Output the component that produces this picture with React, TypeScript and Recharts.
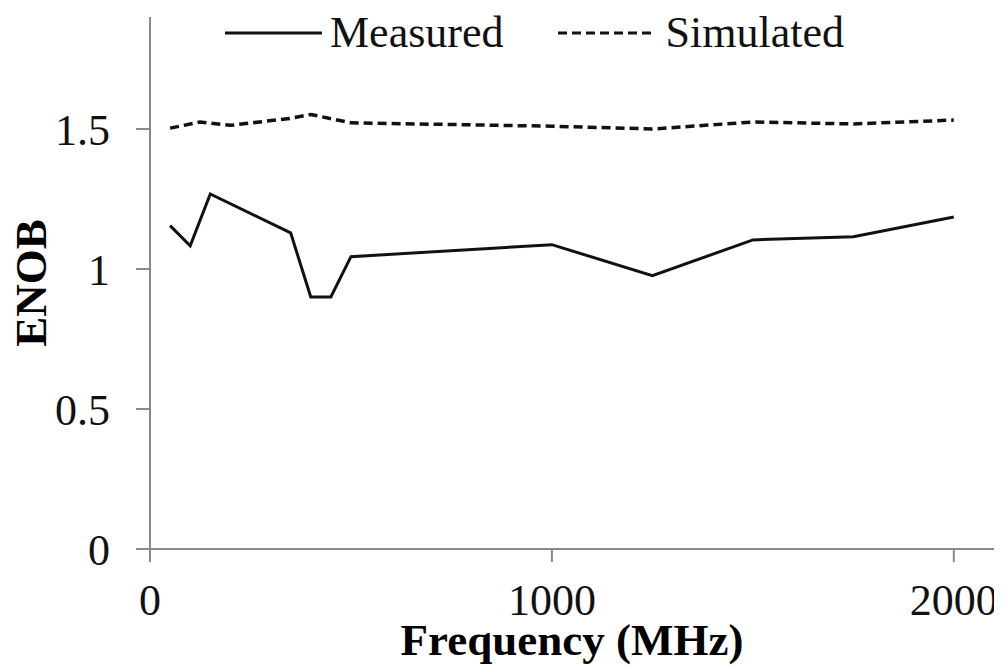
import { Line, LineChart, XAxis, YAxis, Label } from "recharts";

// ENOB vs fréquence : mesure contre simulation.

const measuredFreq = [50, 100, 150, 350, 400, 450, 500, 1000, 1250, 1500, 1750, 2000];
const measuredEnob = [1.155, 1.083, 1.268, 1.129, 0.9, 0.9, 1.044, 1.087, 0.976, 1.104, 1.115, 1.186];

const simulatedFreq = [50, 125, 200, 350, 400, 500, 1000, 1250, 1500, 1750, 2000];
const simulatedEnob = [1.503, 1.525, 1.513, 1.538, 1.552, 1.522, 1.51, 1.5, 1.525, 1.518, 1.532];

const xTicks = [0, 1000, 2000];
const yTicks = [0, 0.5, 1, 1.5];

const FONT = '"Liberation Serif", "Times New Roman", serif';
const AXIS_GREY = "#8a8a8a";

const measured = measuredFreq.map((f, i) => ({ freq: f, enob: measuredEnob[i] }));
const simulated = simulatedFreq.map((f, i) => ({ freq: f, enob: simulatedEnob[i] }));

// légende posée par-dessus le graphe, pour ne pas décaler la zone de tracé
function LegendBox() {
  const text = { fontFamily: FONT, fontSize: 44, color: "#111", lineHeight: "50px" };
  return (
    <div
      style={{
        position: "absolute",
        top: 0,
        left: 217,
        display: "flex",
        alignItems: "center",
        whiteSpace: "nowrap"
      }}
    >
      <svg width={97} height={10}>
        <line x1={0} y1={5} x2={97} y2={5} stroke="#111" strokeWidth={3} />
      </svg>
      <span style={{ ...text, marginLeft: 8 }}>Measured</span>
      <svg width={96} height={10} style={{ marginLeft: 54 }}>
        <line x1={0} y1={5} x2={96} y2={5} stroke="#111" strokeWidth={3} strokeDasharray="9 5" />
      </svg>
      <span style={{ ...text, marginLeft: 12 }}>Simulated</span>
    </div>
  );
}

export default function App() {
  return (
    <div style={{ position: "relative", width: 994, height: 662 }}>
      <LineChart
        width={994}
        height={662}
        margin={{ top: 9, right: 8, left: 0, bottom: 0 }}
        style={{ fontFamily: FONT }}
      >
        <XAxis
          dataKey="freq"
          type="number"
          domain={[0, 2100]}
          ticks={xTicks}
          height={121}
          tick={{ fill: "#111", fontSize: 44, fontFamily: FONT }}
          tickSize={13}
          tickMargin={22}
          axisLine={{ stroke: AXIS_GREY, strokeWidth: 2 }}
          tickLine={{ stroke: AXIS_GREY, strokeWidth: 2 }}
          allowDataOverflow
        >
          <Label
            value="Frequency (MHz)"
            position="insideBottom"
            offset={15}
            style={{ fontFamily: FONT, fontSize: 45, fontWeight: "bold", fill: "#000" }}
          />
        </XAxis>
        <YAxis
          type="number"
          domain={[0, 1.9]}
          ticks={yTicks}
          width={142}
          tick={{ fill: "#111", fontSize: 44, fontFamily: FONT }}
          tickSize={14}
          tickMargin={26}
          axisLine={{ stroke: AXIS_GREY, strokeWidth: 2 }}
          tickLine={{ stroke: AXIS_GREY, strokeWidth: 2 }}
          allowDataOverflow
        >
          <Label
            value="ENOB"
            angle={-90}
            position="insideLeft"
            offset={22}
            style={{ fontFamily: FONT, fontSize: 45, fontWeight: "bold", fill: "#000", textAnchor: "middle" }}
          />
        </YAxis>
        <Line
          data={measured}
          dataKey="enob"
          name="Measured"
          type="linear"
          stroke="#111"
          strokeWidth={3}
          dot={false}
          isAnimationActive={false}
        />
        <Line
          data={simulated}
          dataKey="enob"
          name="Simulated"
          type="linear"
          stroke="#111"
          strokeWidth={3.5}
          strokeDasharray="9 5"
          dot={false}
          isAnimationActive={false}
        />
      </LineChart>
      <LegendBox />
    </div>
  );
}
